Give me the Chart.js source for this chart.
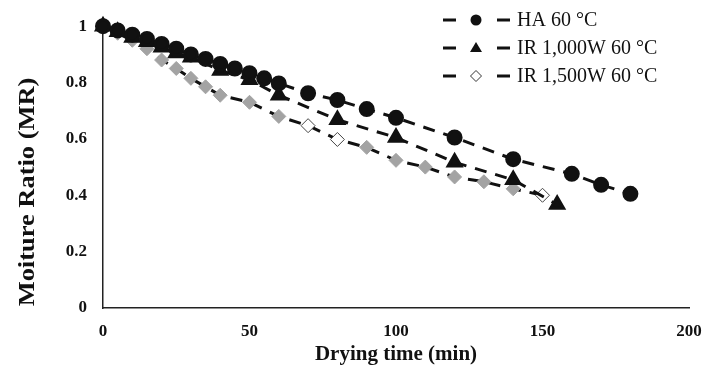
<!DOCTYPE html>
<html>
<head>
<meta charset="utf-8">
<script src="https://cdn.jsdelivr.net/npm/chart.js@4.4.1/dist/chart.umd.min.js"></script>
<style>
  html, body { margin: 0; padding: 0; background: #fff; }
  #wrap { width: 708px; height: 384px; }
</style>
</head>
<body>
<div id="wrap"><canvas id="mr" width="708" height="384"></canvas></div>
<script>
// drying curves, moisture ratio vs time
const seriesNames = ['HA 60 °C', 'IR 1,000W 60 °C', 'IR 1,500W 60 °C'];

const haTime = [0, 5, 10, 15, 20, 25, 30, 35, 40, 45, 50, 55, 60, 70, 80, 90, 100, 120, 140, 160, 170, 180];
const haMR   = [1, 0.985, 0.97, 0.955, 0.937, 0.92, 0.9, 0.884, 0.866, 0.85, 0.833, 0.815, 0.797, 0.762, 0.738, 0.706, 0.675, 0.605, 0.528, 0.476, 0.437, 0.405];

const ir1000Time = [0, 5, 10, 15, 20, 25, 30, 40, 50, 60, 80, 100, 120, 140, 155];
const ir1000MR   = [1, 0.98, 0.96, 0.945, 0.925, 0.905, 0.89, 0.843, 0.81, 0.755, 0.668, 0.605, 0.517, 0.455, 0.367];

const ir1500Time = [0, 5, 10, 15, 20, 25, 30, 35, 40, 50, 60, 70, 80, 90, 100, 110, 120, 130, 140, 150];
const ir1500MR   = [1, 0.975, 0.95, 0.92, 0.88, 0.85, 0.815, 0.785, 0.755, 0.73, 0.68, 0.647, 0.598, 0.57, 0.524, 0.5, 0.465, 0.448, 0.423, 0.4];
// hollow markers on the 1,500 W curve
const ir1500Hollow = [70, 80, 150];

const xTicks = [0, 50, 100, 150, 200];
const yTicks = [0, 0.2, 0.4, 0.6, 0.8, 1];
const yTitle = 'Moiture Ratio (MR)';

const toPoints = (xs, ys) => xs.map((x, i) => ({ x: x, y: ys[i] }));

const serif = '"Liberation Serif", "Times New Roman", serif';

// legend: dash - marker - dash, then the label
const dashLegend = {
  id: 'dashLegend',
  afterDraw(chart) {
    const ctx = chart.ctx;
    const rows = [20, 48, 76];
    chart.data.datasets.forEach((ds, i) => {
      const y = rows[i];
      ctx.save();
      ctx.strokeStyle = '#111';
      ctx.lineWidth = 3;
      ctx.beginPath();
      ctx.moveTo(443, y); ctx.lineTo(456, y);
      ctx.moveTo(497, y); ctx.lineTo(510, y);
      ctx.stroke();

      const mx = 476;
      ctx.lineWidth = 1;
      ctx.beginPath();
      if (ds.pointStyle === 'circle') {
        ctx.arc(mx, y, 5.5, 0, Math.PI * 2);
        ctx.fillStyle = '#111';
        ctx.fill();
      } else if (ds.pointStyle === 'triangle') {
        ctx.moveTo(mx, y - 6); ctx.lineTo(mx + 6, y + 4); ctx.lineTo(mx - 6, y + 4);
        ctx.closePath();
        ctx.fillStyle = '#111';
        ctx.fill();
      } else {
        ctx.moveTo(mx, y - 5.5); ctx.lineTo(mx + 5.5, y); ctx.lineTo(mx, y + 5.5); ctx.lineTo(mx - 5.5, y);
        ctx.closePath();
        ctx.fillStyle = '#fff';
        ctx.fill();
        ctx.strokeStyle = '#333';
        ctx.stroke();
      }

      ctx.fillStyle = '#111';
      ctx.font = '20px ' + serif;
      ctx.textBaseline = 'middle';
      ctx.fillText(seriesNames[i], 517, y + 1);
      ctx.restore();
    });
  }
};

// vertical axis title, a little taller than the tick font
const tallYTitle = {
  id: 'tallYTitle',
  afterDraw(chart) {
    const ctx = chart.ctx;
    ctx.save();
    ctx.font = 'bold 23px ' + serif;
    ctx.translate(28, 192);
    ctx.rotate(-Math.PI / 2);
    ctx.scale(1.15, 1);
    ctx.fillStyle = '#111';
    ctx.textAlign = 'center';
    ctx.textBaseline = 'middle';
    ctx.fillText(yTitle, 0, 0);
    ctx.restore();
  }
};

new Chart(document.getElementById('mr'), {
  type: 'scatter',
  data: {
    datasets: [
      {
        label: seriesNames[0],
        data: toPoints(haTime, haMR),
        showLine: true,
        borderColor: '#111',
        borderWidth: 3,
        borderDash: [12, 9],
        pointStyle: 'circle',
        pointRadius: 6.5,
        pointBackgroundColor: '#111',
        pointBorderColor: '#111',
        clip: false
      },
      {
        label: seriesNames[1],
        data: toPoints(ir1000Time, ir1000MR),
        showLine: true,
        borderColor: '#111',
        borderWidth: 3,
        borderDash: [12, 9],
        pointStyle: 'triangle',
        pointRadius: 7.5,
        pointBackgroundColor: '#111',
        pointBorderColor: '#111',
        clip: false
      },
      {
        label: seriesNames[2],
        data: toPoints(ir1500Time, ir1500MR),
        showLine: true,
        borderColor: '#111',
        borderWidth: 3,
        borderDash: [12, 9],
        pointStyle: 'rectRot',
        pointRadius: 7,
        pointBackgroundColor: ir1500Time.map(t => ir1500Hollow.includes(t) ? '#fff' : '#a3a3a3'),
        pointBorderColor: ir1500Time.map(t => ir1500Hollow.includes(t) ? '#444' : '#a3a3a3'),
        pointBorderWidth: 1,
        clip: false
      }
    ]
  },
  options: {
    responsive: false,
    animation: false,
    layout: { padding: { top: 22, right: 19, left: 0, bottom: 0 } },
    plugins: {
      legend: { display: false },
      tooltip: { enabled: false }
    },
    scales: {
      x: {
        type: 'linear',
        min: 0,
        max: 200,
        afterBuildTicks: s => { s.ticks = xTicks.map(v => ({ value: v })); },
        afterFit: s => { s.height = 76; s.paddingLeft = 0; s.paddingRight = 0; },
        grid: { display: false, drawTicks: false },
        border: { display: true, color: '#222', width: 1.5 },
        ticks: {
          padding: 13,
          color: '#111',
          font: { family: serif, size: 17, weight: 'bold' }
        },
        title: {
          display: true,
          text: 'Drying time (min)',
          color: '#111',
          padding: { top: 0, bottom: 17 },
          font: { family: serif, size: 21, weight: 'bold' }
        }
      },
      y: {
        type: 'linear',
        min: 0,
        max: 1,
        afterBuildTicks: s => { s.ticks = yTicks.map(v => ({ value: v })); },
        afterFit: s => { s.width = 103; },
        grid: { display: false, drawTicks: false },
        border: { display: true, color: '#222', width: 1.5 },
        ticks: {
          padding: 16,
          color: '#111',
          font: { family: serif, size: 17, weight: 'bold' },
          callback: v => String(+v.toFixed(1))
        }
      }
    }
  },
  plugins: [dashLegend, tallYTitle]
});
</script>
</body>
</html>
